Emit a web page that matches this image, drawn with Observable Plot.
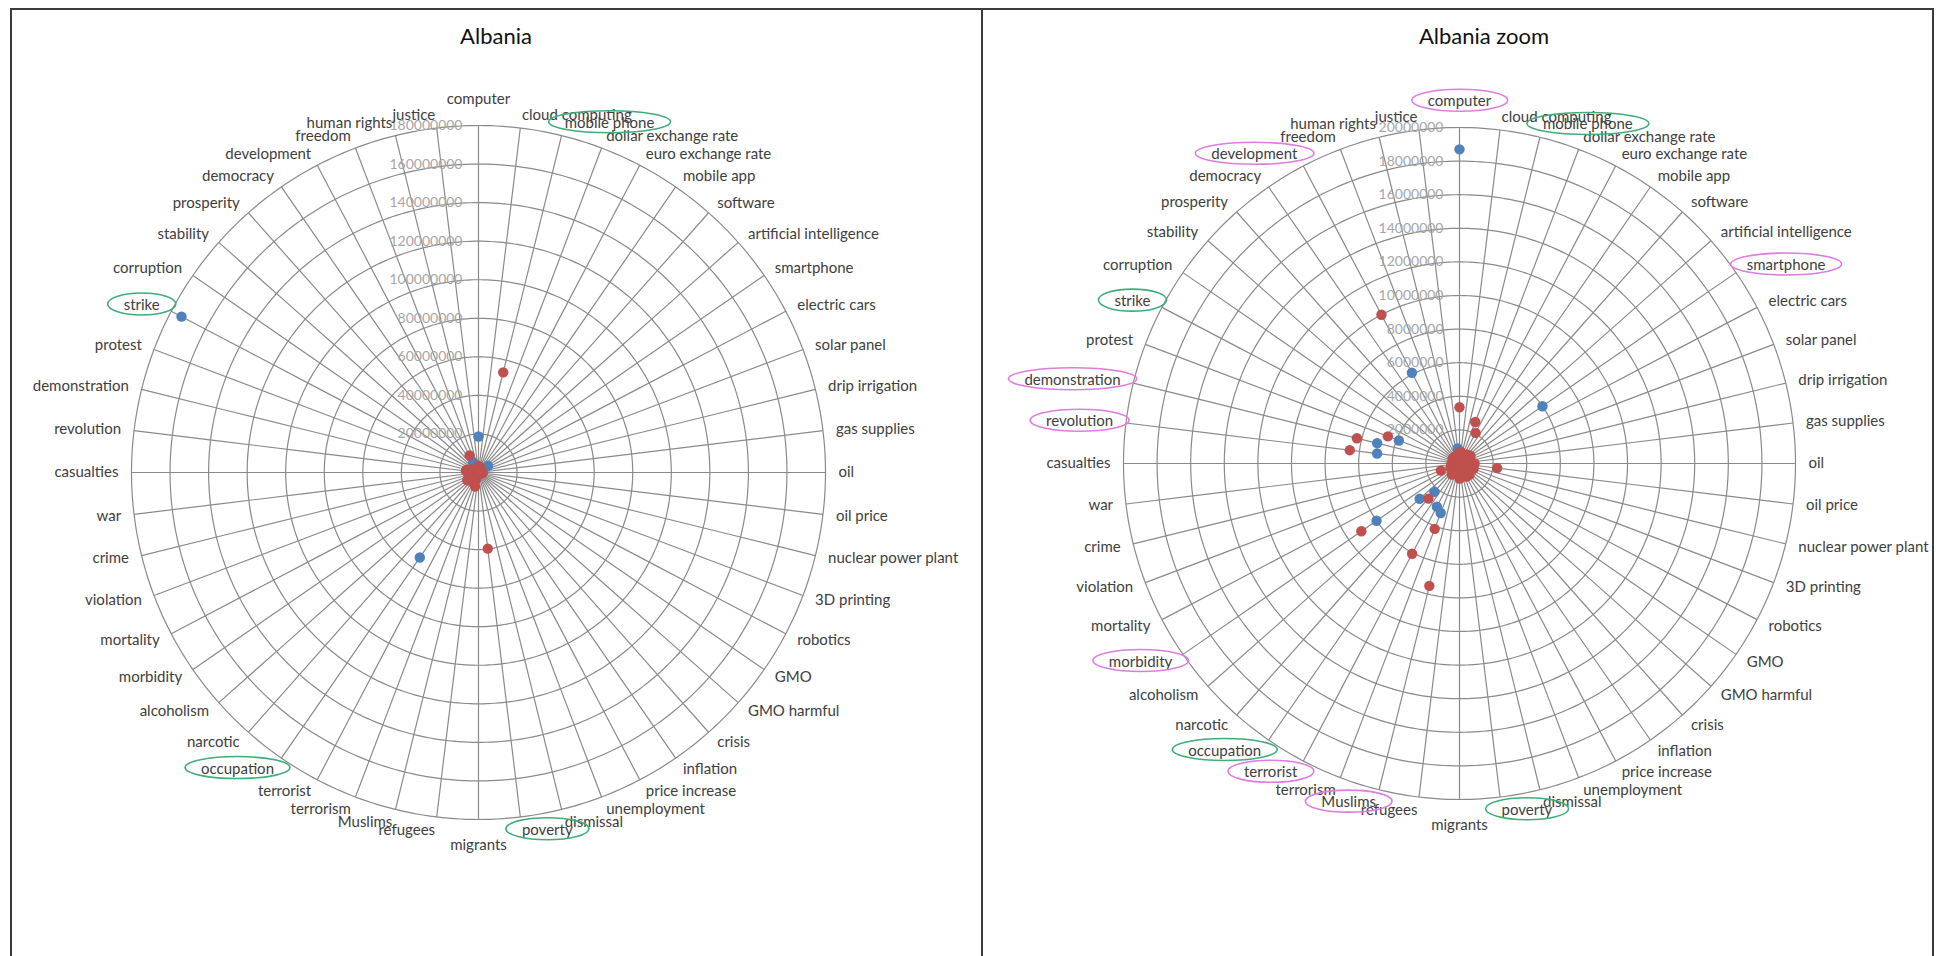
<!DOCTYPE html>
<html><head><meta charset="utf-8">
<script src="https://cdn.jsdelivr.net/npm/d3@7"></script>
<script src="https://cdn.jsdelivr.net/npm/@observablehq/plot@0.6"></script>
<style>
html,body{margin:0;padding:0;background:#fff;}
body{width:1937px;height:956px;overflow:hidden;position:relative;font-family:Lato,"Open Sans",sans-serif;}
#frame{position:absolute;left:10px;top:8px;width:1924px;height:980px;border:2px solid #3c3c3c;box-sizing:border-box;}
#divider{position:absolute;left:981px;top:8px;width:2px;height:980px;background:#3c3c3c;}
.title{position:absolute;top:22px;font-size:22px;line-height:28px;color:#111;transform:translateX(-50%);white-space:nowrap;}
.chart{position:absolute;top:60px;}
.chart svg{overflow:visible;}
</style></head><body>
<div id="frame"></div><div id="divider"></div>
<div class="title" style="left:496px">Albania</div>
<div class="title" style="left:1484px">Albania zoom</div>
<div id="left" class="chart" style="left:12px"></div>
<div id="right" class="chart" style="left:986px"></div>
<script>
const categories = ["computer","cloud computing","mobile phone","dollar exchange rate","euro exchange rate","mobile app","software","artificial intelligence","smartphone","electric cars","solar panel","drip irrigation","gas supplies","oil","oil price","nuclear power plant","3D printing","robotics","GMO","GMO harmful","crisis","inflation","price increase","unemployment","dismissal","poverty","migrants","refugees","Muslims","terrorism","terrorist","occupation","narcotic","alcoholism","morbidity","mortality","violation","crime","war","casualties","revolution","demonstration","protest","strike","corruption","stability","prosperity","democracy","development","freedom","human rights","justice"];

// series 1 (blue)
const blueValues = [18700000,300000,400000,200000,200000,300000,400000,300000,6000000,200000,200000,100000,300000,500000,300000,200000,200000,200000,300000,100000,400000,300000,300000,400000,300000,500000,400000,500000,600000,3150000,2900000,53600000,2260000,3170000,6000000,400000,300000,300000,300000,300000,4940000,5050000,3860000,174000000,300000,200000,200000,300000,6100000,300000,400000,900000];
// series 2 (red)
const redValues = [3350000,700000,53500000,2640000,2060000,600000,700000,500000,800000,400000,300000,200000,600000,900000,2260000,500000,900000,300000,600000,200000,900000,700000,880000,800000,600000,39800000,900000,600000,7500000,4160000,6070000,800000,2790000,600000,7100000,600000,1190000,500000,500000,400000,6580000,6290000,4560000,400000,500000,300000,400000,500000,10000000,400000,500000,600000];

const leftTicks = [20000000,40000000,60000000,80000000,100000000,120000000,140000000,160000000,180000000];
const rightTicks = [2000000,4000000,6000000,8000000,10000000,12000000,14000000,16000000,18000000,20000000];

const greenMarked = ["mobile phone","strike","occupation","poverty"];
const pinkMarked = ["computer","development","smartphone","demonstration","revolution","morbidity","terrorist","Muslims"];

const seriesColors = {blue: "#4F81BD", red: "#C0504D"};

function radar(el, {max, ticks, Rpx, width, height, cx, cy, pink}) {
  const N = categories.length;
  const span = 60;
  const rows = categories.map((c, i) => ({c, i, lon: 180 - i * 360 / N}));
  const lat = v => 90 - v / max * span;
  const labelLat = extra => 90 - span * (1 + extra / Rpx);
  const pts = s => (s === "blue" ? blueValues : redValues)
    .map((v, i) => ({v, lon: rows[i].lon}))
    .filter(d => d.v <= max);
  const textStyle = {fontSize: 15, fill: "#404040", fontFamily: "Lato, sans-serif"};
  const chart = Plot.plot({
    width, height,
    marginLeft: cx - Rpx, marginRight: width - cx - Rpx,
    marginTop: cy - Rpx, marginBottom: height - cy - Rpx,
    projection: {type: "azimuthal-equidistant", rotate: [0, -90], clip: false,
      domain: d3.geoCircle().center([0, 90]).radius(span)()},
    style: {overflow: "visible", background: "transparent"},
    marks: [
      Plot.geo(ticks, {geometry: v => d3.geoCircle().center([0, 90]).radius(v / max * span).precision(1)(),
        stroke: "#8a8a8a", strokeWidth: 1.2, strokeOpacity: 1, fill: "none"}),
      Plot.link(rows, {x1: "lon", y1: 90 - span, x2: "lon", y2: 90, stroke: "#8a8a8a", strokeWidth: 1.2, strokeOpacity: 1}),
      Plot.text(ticks, {x: 180, y: v => lat(v), text: v => String(v), textAnchor: "end", dx: -16,
        fill: "#a6a6a6", fontSize: 14, fontFamily: "Lato, sans-serif"}),
      Plot.text(rows.filter(d => d.i > 0 && d.i < N / 2), {x: "lon", y: labelLat(13), text: "c", textAnchor: "start", ...textStyle}),
      Plot.text(rows.filter(d => d.i > N / 2), {x: "lon", y: labelLat(13), text: "c", textAnchor: "end", ...textStyle}),
      Plot.text(rows.filter(d => d.i === 0 || d.i === N / 2), {x: "lon", y: labelLat(26), text: "c", textAnchor: "middle", ...textStyle}),
      Plot.dot(pts("blue"), {x: "lon", y: d => lat(d.v), r: 5.2, fill: seriesColors.blue, stroke: "none"}),
      Plot.dot(pts("red"), {x: "lon", y: d => lat(d.v), r: 5.2, fill: seriesColors.red, stroke: "none"})
    ]
  });
  el.appendChild(chart);
  const svg = d3.select(chart);
  const marked = [...greenMarked.map(t => [t, "#3fae78"]), ...(pink ? pinkMarked.map(t => [t, "#e07be0"]) : [])];
  svg.selectAll("text").each(function() {
    const t = this.textContent;
    const m = marked.find(d => d[0] === t);
    if (!m) return;
    const b = this.getBBox();
    const p = chart.createSVGPoint();
    p.x = b.x + b.width / 2; p.y = b.y + b.height / 2;
    const m1 = this.getScreenCTM(), m0 = chart.getScreenCTM();
    const q = p.matrixTransform(m0.inverse().multiply(m1));
    svg.append("ellipse")
      .attr("cx", q.x).attr("cy", q.y)
      .attr("rx", b.width / 2 + 16).attr("ry", 11)
      .attr("fill", "none").attr("stroke", m[1]).attr("stroke-width", 1.6);
  });
}

radar(document.getElementById("left"), {max: 180000000, ticks: leftTicks, Rpx: 347, width: 968, height: 890, cx: 466, cy: 412, pink: false});
radar(document.getElementById("right"), {max: 20000000, ticks: rightTicks, Rpx: 336, width: 946, height: 890, cx: 473, cy: 403, pink: true});
</script>
</body></html>
